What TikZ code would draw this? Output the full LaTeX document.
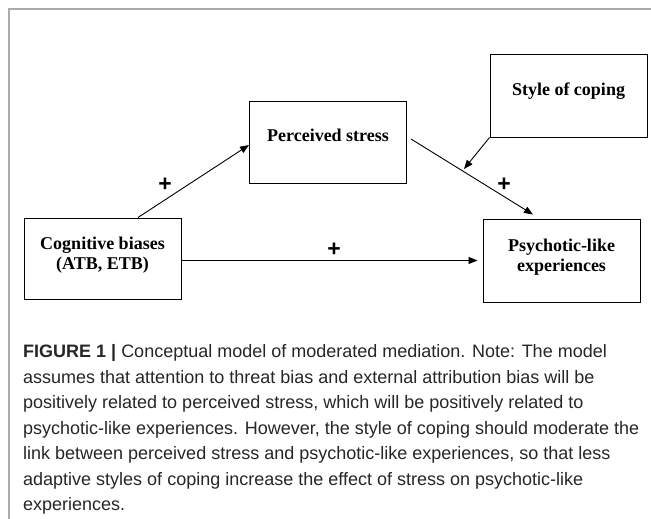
\documentclass[tikz,border=0pt]{standalone}
\usepackage{fontspec}
\setmainfont{Liberation Serif}
\newfontfamily\capfont{Liberation Sans}
\usetikzlibrary{positioning, arrows.meta}

\begin{document}
\begin{tikzpicture}[x=1pt, y=-1pt,
	box/.style={draw, line width=1pt, minimum width=157pt, minimum height=81pt, inner sep=0pt,
		align=center, font=\bfseries\fontsize{18}{20}\selectfont, text depth=11pt},
	plus/.style={font=\capfont\bfseries\fontsize{23}{23}\selectfont, inner sep=0pt},
	link/.style={line width=0.9pt, -{Triangle[length=9pt, width=7pt]}}]
		\useasboundingbox (0, 0) rectangle (651, 519);
		% Draw frame
		\draw[line width=1.4pt, black!33] (651, 9) -- (9, 9) -- (9, 519);
		
		% Boxes
		\node[box] (cog) at (102.5, 258.5) {Cognitive biases\\(ATB, ETB)};
		\node[box, text depth=14.5pt] (stress) at (328, 142.5) {Perceived stress};
		\node[box, text depth=14.5pt, minimum height=82pt] (coping) at (568.5, 96) {Style of coping};
		\node[box, minimum height=83pt] (psych) at (561.5, 260.5) {Psychotic-like\\experiences};
		
		% Paths between boxes
		\draw[link] ([xshift=35.5pt]cog.north) -- ([yshift=-2.5pt]stress.west);
		\draw[link] ([xshift=4pt, yshift=3.5pt]stress.east) -- ([xshift=-28.5pt, yshift=4pt]psych.north);
		\draw[link] ([yshift=-2pt]cog.east) -- ([xshift=-5pt]psych.west);
		\coordinate (modpt) at (464, 169);
		\draw[link] (coping.south west) -- (modpt);
		
		% Signs
		\node[plus] (plusa) at (165, 185) {+};
		\node[plus] (plusb) at (334, 250) {+};
		\node[plus] (plusc) at (504, 185) {+};
		
		% Caption (base is the last line)
		\node[anchor=base west, align=left, inner sep=0pt, text=black!85,
		font=\capfont\fontsize{18}{25.5}\selectfont] (caption) at (23, 510.7)
		{{\bfseries FIGURE 1 |} Conceptual model of moderated mediation. Note: The model\\
			assumes that attention to threat bias and external attribution bias will be\\
			positively related to perceived stress, which will be positively related to\\
			psychotic-like experiences. However, the style of coping should moderate the\\
			link between perceived stress and psychotic-like experiences, so that less\\
			adaptive styles of coping increase the effect of stress on psychotic-like\\
			experiences.};
	\end{tikzpicture}
\end{document}
